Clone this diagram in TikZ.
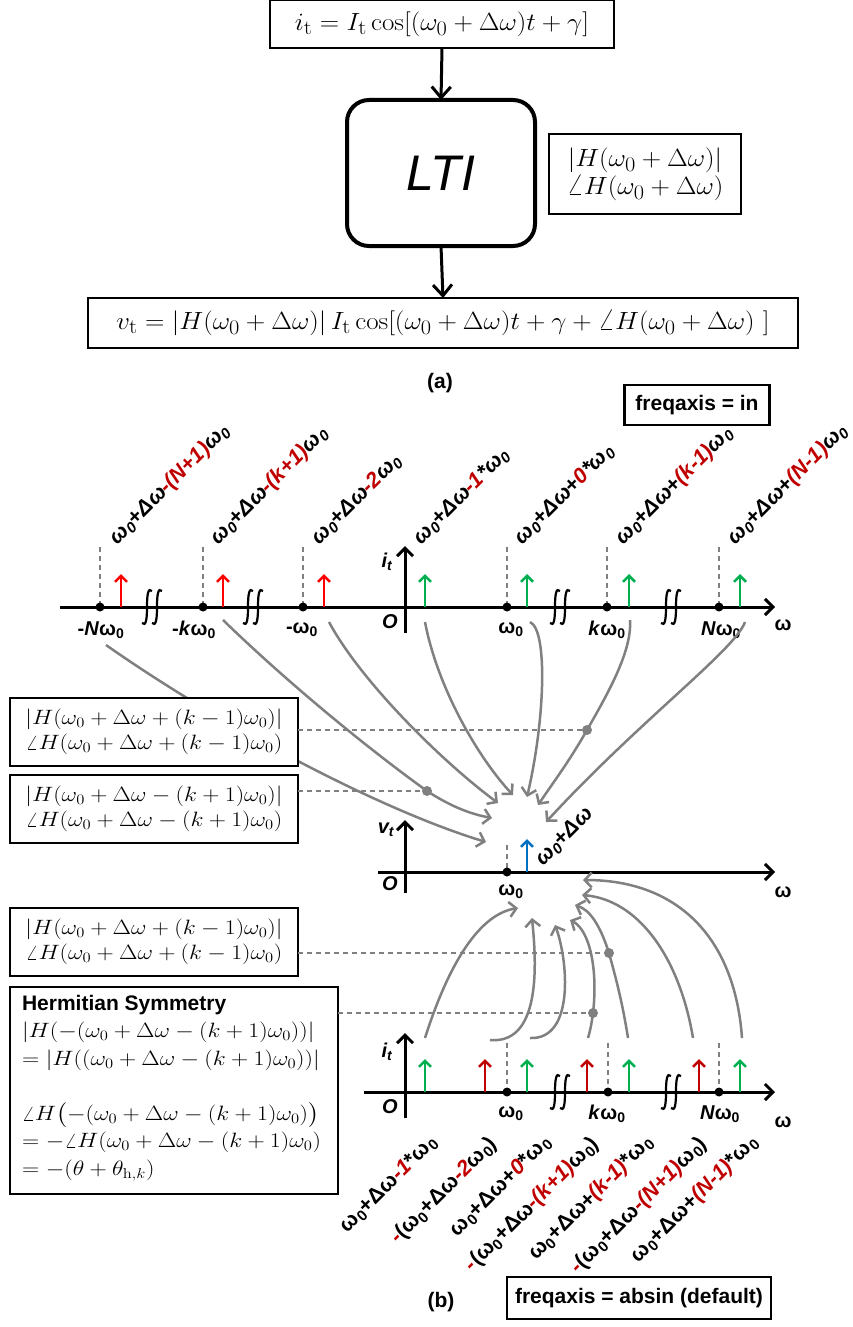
\documentclass[tikz,border=0pt]{standalone}
\usepackage{amsmath}
\usepackage[no-math]{fontspec}
\usetikzlibrary{arrows.meta}
\newfontfamily\arial{Liberation Sans}
\definecolor{cgray}{RGB}{128,128,128}
\definecolor{rred}{RGB}{255,0,0}
\definecolor{dred}{RGB}{192,0,0}
\definecolor{cgreen}{RGB}{0,176,80}
\definecolor{cblue}{RGB}{0,112,192}
\newcommand{\wnull}{ω\textsubscript{0}}
\newcommand{\rd}[1]{\textcolor{dred}{\itshape #1}}
\newcommand{\cmth}[1]{\scalebox{1.15}[1]{$#1$}}
\newcommand{\amth}[1]{\scalebox{1.08}[1]{$#1$}}
\begin{document}
\begin{tikzpicture}[x=1pt,y=-1pt,
  every node/.style={inner sep=0pt, outer sep=0pt},
  mbox/.style={draw=black, line width=1.5pt, fill=white},
  mfont/.style={font=\fontsize{20.74}{25}\selectfont},
  afont/.style={font=\fontsize{24.88}{28}\selectfont},
  blk/.style={line width=3pt, -{Straight Barb[length=11pt,width=19pt]}},
  axis/.style={line width=3pt, -{Straight Barb[length=8pt,width=16pt]}},
  imp/.style={line width=2.5pt, -{Straight Barb[length=6pt,width=12pt]}},
  dsh/.style={draw=cgray, line width=2.5pt, dash pattern=on 5pt off 4pt},
  cur/.style={draw=cgray, line width=2.5pt, -{Straight Barb[length=7pt,width=15pt]}},
  dot/.style={circle, fill=black, minimum size=9pt},
  gdot/.style={circle, fill=cgray, minimum size=10pt},
  alab/.style={font=\arial\bfseries\fontsize{20}{20}\selectfont},
  tlab/.style={rotate=45, anchor=base west, font=\arial\bfseries\itshape\fontsize{21.5}{21.5}\selectfont},
  blab/.style={rotate=45, anchor=base east, font=\arial\bfseries\fontsize{21.5}{21.5}\selectfont},
  brk/.pic={\draw[line width=2.2pt] (-10,16) .. controls (-6,20) and (-5,12) .. (-5,0) .. controls (-5,-12) and (-4,-20) .. (0,-16);
            \draw[line width=2.2pt] (0,16) .. controls (4,20) and (5,12) .. (5,0) .. controls (5,-12) and (6,-20) .. (10,-16);}
]
\useasboundingbox (0,0) rectangle (852,1327);

% ---------------- (a) ----------------
\node[mbox, afont, minimum width=344pt, minimum height=48pt] (itop) at (442,24)
  {\amth{i_{\mathrm t}=I_{\mathrm t}\cos[(\omega_0+\Delta\omega)t+\gamma]}};
\node[draw, line width=4pt, rounded corners=22pt, minimum width=188pt, minimum height=146pt,
  font=\arial\itshape\fontsize{50}{50}\selectfont] (lti) at (441,173) {LTI};
\node[mbox, afont, align=center, minimum width=192pt, minimum height=80pt] (hside) at (645,174)
  {\amth{|H(\omega_0+\Delta\omega)|}\\\amth{\angle H(\omega_0+\Delta\omega)}};
\node[mbox, afont, minimum width=710pt, minimum height=50pt] (vbot) at (443,323)
  {\amth{v_{\mathrm t}=|H(\omega_0+\Delta\omega)|\,I_{\mathrm t}\cos[(\omega_0+\Delta\omega)t+\gamma+\angle H(\omega_0+\Delta\omega)\ ]}};
\draw[blk] (itop.south) -- (lti.north);
\draw[blk] (lti.south) -- (vbot.north);
\node[font=\arial\bfseries\fontsize{21}{21}\selectfont] (lbla) at (440,383) {(a)};

% ---------------- (b) labels ----------------
\node[draw, line width=2.5pt, minimum width=145pt, minimum height=40pt,
  font=\arial\bfseries\fontsize{21}{21}\selectfont] (fin) at (697,405) {freqaxis = in};
\node[draw, line width=2.5pt, minimum width=264pt, minimum height=42pt,
  font=\arial\bfseries\fontsize{21}{21}\selectfont] (fabs) at (639,1298) {freqaxis = absin (default)};
\node[font=\arial\bfseries\fontsize{21}{21}\selectfont] (lblb) at (441,1302) {(b)};

% ---------------- top axis ----------------
\coordinate (ta0) at (60,607); \coordinate (ta1) at (775,607);
\coordinate (tv0) at (405,633); \coordinate (tv1) at (405,546);
\foreach \x in {100,203,303,507,607,719} \draw[dsh] (\x,547) -- (\x,607);
\draw[axis] (ta0) -- (ta1);
\draw[axis] (tv0) -- (tv1);
\foreach \x in {100,203,303,507,607,719} \node[dot] at (\x,607) {};
\foreach \x in {121,223,324} \draw[imp, rred] (\x,607) -- (\x,574);
\foreach \x in {425,527,629,740} \draw[imp, cgreen] (\x,607) -- (\x,574);
\foreach \x in {152,253,560,671} \pic at (\x,607) {brk};
\node[alab] (tit) at (387,562) {\itshape i\textsubscript{t}};
\node[alab] (tO) at (390,622) {\itshape O};
\node[alab] (tw) at (783,625) {ω};
\node[alab] (tln) at (101,630) {-\textit{N}\wnull};
\node[alab] (tlk) at (194,630) {-\textit{k}\wnull};
\node[alab] (tl1) at (302,630) {-\wnull};
\node[alab] (tl0) at (511,630) {\wnull};
\node[alab] (tlkp) at (607,630) {\textit{k}\wnull};
\node[alab] (tlnp) at (721,630) {\textit{N}\wnull};

\node[tlab] (l1) at (117,545) {\wnull+Δω\rd{-(N+1)}\wnull};
\node[tlab] (l2) at (218,545) {\wnull+Δω\rd{-(k+1)}\wnull};
\node[tlab] (l3) at (319,545) {\wnull+Δω\rd{-2}\wnull};
\node[tlab] (l4) at (421,545) {\wnull+Δω\rd{-1}*\wnull};
\node[tlab] (l5) at (522,545) {\wnull+Δω+\rd{0}*\wnull};
\node[tlab] (l6) at (623,545) {\wnull+Δω+\rd{(k-1)}\wnull};
\node[tlab] (l7) at (735,545) {\wnull+Δω+\rd{(N-1)}\wnull};

% ---------------- middle axis ----------------
\coordinate (ma0) at (378,872); \coordinate (ma1) at (775,872);
\coordinate (mv0) at (405,893); \coordinate (mv1) at (405,820);
\draw[dsh] (507,845) -- (507,872);
\draw[axis] (ma0) -- (ma1);
\draw[axis] (mv0) -- (mv1);
\node[dot] (mdot) at (507,872) {};
\draw[imp, cblue] (527,872) -- (527,839);
\node[alab] (mvt) at (386,830) {\itshape v\textsubscript{t}};
\node[alab] (mO) at (390,884) {\itshape O};
\node[alab] (mw0) at (511,892) {\wnull};
\node[alab] (mw) at (783,892) {ω};
\node[rotate=45, anchor=base west, font=\arial\bfseries\itshape\fontsize{21.5}{21.5}\selectfont] (mlab) at (543,866) {\wnull+Δω};

% ---------------- bottom axis ----------------
\coordinate (ba0) at (364,1092); \coordinate (ba1) at (775,1092);
\coordinate (bv0) at (405,1118); \coordinate (bv1) at (405,1033);
\foreach \x in {507,608,719} \draw[dsh] (\x,1043) -- (\x,1092);
\draw[axis] (ba0) -- (ba1);
\draw[axis] (bv0) -- (bv1);
\foreach \x in {507,608,719} \node[dot] at (\x,1092) {};
\foreach \x in {485,587,699} \draw[imp, dred] (\x,1092) -- (\x,1059);
\foreach \x in {425,527,629,740} \draw[imp, cgreen] (\x,1092) -- (\x,1059);
\foreach \x in {560,671} \pic at (\x,1092) {brk};
\node[alab] (bit) at (387,1052) {\itshape i\textsubscript{t}};
\node[alab] (bO) at (390,1107) {\itshape O};
\node[alab] (bw0) at (511,1114) {\wnull};
\node[alab] (bwk) at (607,1114) {\textit{k}\wnull};
\node[alab] (bwn) at (720,1114) {\textit{N}\wnull};
\node[alab] (bw) at (783,1122) {ω};

\node[blab] (b1) at (438,1143) {\wnull+Δω\rd{-1}*\wnull};
\node[blab] (b2) at (498,1145) {\rd{-}(\wnull+Δω\rd{-2}\wnull)};
\node[blab] (b3) at (552,1143) {\wnull+Δω+\rd{0}*\wnull};
\node[blab] (b4) at (600,1145) {\rd{-}(\wnull+Δω\rd{-(k+1)}\wnull)};
\node[blab] (b5) at (654,1143) {\wnull+Δω+\rd{(k-1)}*\wnull};
\node[blab] (b6) at (708,1145) {\rd{-}(\wnull+Δω\rd{-(N+1)}\wnull)};
\node[blab] (b7) at (759,1143) {\wnull+Δω+\rd{(N-1)}*\wnull};

% ---------------- curves top ----------------
\coordinate (s1) at (106,645); \coordinate (e1) at (486,842);
\coordinate (s2) at (223,620); \coordinate (g2) at (427,791); \coordinate (e2) at (492,818);
\coordinate (s3) at (329,622); \coordinate (e3) at (498,803);
\coordinate (s4) at (425,622); \coordinate (e4) at (513,795);
\coordinate (s5) at (530,622); \coordinate (e5) at (527,797);
\coordinate (s6) at (630,620); \coordinate (g1) at (587,730); \coordinate (e6) at (538,805);
\coordinate (s7) at (745,622); \coordinate (e7) at (546,822);
\draw[cur] (s1) .. controls (220,725) and (380,810) .. (e1);
\draw[cur] (s2) .. controls (290,685) and (370,750) .. (g2) .. controls (450,806) and (470,814) .. (e2);
\draw[cur] (s3) .. controls (360,680) and (440,760) .. (e3);
\draw[cur] (s4) .. controls (438,690) and (480,760) .. (e4);
\draw[cur] (s5) .. controls (548,630) and (545,720) .. (e5);
\draw[cur] (s6) .. controls (632,650) and (610,690) .. (g1) .. controls (570,760) and (555,780) .. (e6);
\draw[cur] (s7) .. controls (735,650) and (640,720) .. (e7);

% ---------------- curves bottom ----------------
\coordinate (u1) at (425,1038); \coordinate (f1) at (518,908);
\coordinate (u2) at (490,1040); \coordinate (f2) at (532,918);
\coordinate (u3) at (530,1038); \coordinate (f3) at (555,925);
\coordinate (u4) at (588,1038); \coordinate (g4) at (593,1013); \coordinate (f4) at (570,920);
\coordinate (u5) at (628,1038); \coordinate (g3) at (609,953); \coordinate (f5) at (575,905);
\coordinate (u6) at (693,1038); \coordinate (f6) at (582,895);
\coordinate (u7) at (742,1038); \coordinate (f7) at (583,880);
\draw[cur] (u1) .. controls (445,975) and (475,915) .. (f1);
\draw[cur] (u2) .. controls (545,1045) and (535,950) .. (f2);
\draw[cur] (u3) .. controls (575,1040) and (568,960) .. (f3);
\draw[cur] (u4) .. controls (591,1028) and (592,1020) .. (g4) .. controls (598,970) and (590,930) .. (f4);
\draw[cur] (u5) .. controls (622,1000) and (615,975) .. (g3) .. controls (600,925) and (590,910) .. (f5);
\draw[cur] (u6) .. controls (680,960) and (640,900) .. (f6);
\draw[cur] (u7) .. controls (735,940) and (680,880) .. (f7);

% ---------------- left boxes ----------------
\node[mbox, mfont, align=center, minimum width=288pt, minimum height=68pt] (box1) at (154,732)
  {\cmth{|H(\omega_0+\Delta\omega+(k-1)\omega_0)|}\\\cmth{\angle H(\omega_0+\Delta\omega+(k-1)\omega_0)}};
\node[mbox, mfont, align=center, minimum width=288pt, minimum height=68pt] (box2) at (154,809)
  {\cmth{|H(\omega_0+\Delta\omega-(k+1)\omega_0)|}\\\cmth{\angle H(\omega_0+\Delta\omega-(k+1)\omega_0)}};
\node[mbox, mfont, align=center, minimum width=288pt, minimum height=68pt] (box3) at (154,942)
  {\cmth{|H(\omega_0+\Delta\omega+(k-1)\omega_0)|}\\\cmth{\angle H(\omega_0+\Delta\omega+(k-1)\omega_0)}};
\node[mbox, minimum width=328pt, minimum height=207pt] (herm) at (174,1090.5) {};
\node[anchor=north west, align=left, font=\fontsize{20.74}{27.5}\selectfont] (hermtxt) at (22,995)
  {{\arial\bfseries\fontsize{21}{27.5}\selectfont Hermitian Symmetry}\\
   \cmth{|H(-(\omega_0+\Delta\omega-(k+1)\omega_0))|}\\
   \cmth{=|H((\omega_0+\Delta\omega-(k+1)\omega_0))|}\\[27.5pt]
   \cmth{\angle H\bigl(-(\omega_0+\Delta\omega-(k+1)\omega_0)\bigr)}\\
   \cmth{=-\angle H(\omega_0+\Delta\omega-(k+1)\omega_0)}\\
   \cmth{=-(\theta+\theta_{\mathrm{h},k})}};

% ---------------- dashed links ----------------
\draw[dsh] (box1.east |- g1) -- (g1);
\draw[dsh] (box2.east |- g2) -- (g2);
\draw[dsh] (box3.east |- g3) -- (g3);
\draw[dsh] (herm.east |- g4) -- (g4);
\foreach \g in {g1,g2,g3,g4} \node[gdot] at (\g) {};
\end{tikzpicture}
\end{document}
